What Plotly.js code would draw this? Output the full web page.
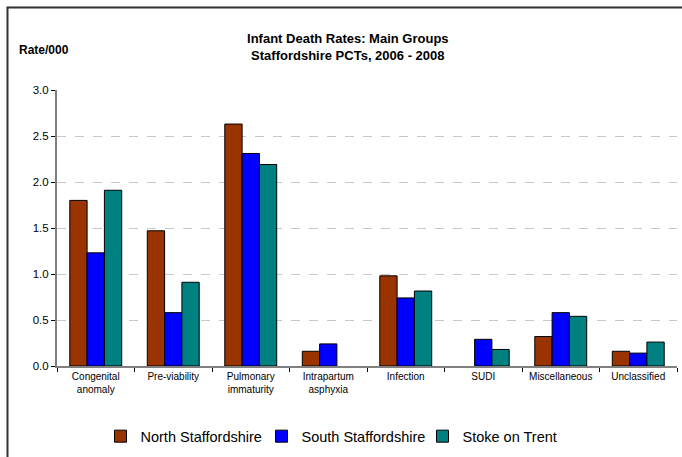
<!DOCTYPE html>
<html>
<head>
<meta charset="utf-8">
<script src="https://cdn.plot.ly/plotly-3.0.1.min.js"></script>
<style>html,body{margin:0;padding:0;background:#fff;}#chart{width:682px;height:457px;}</style>
</head>
<body>
<div id="chart"></div>
<script>
const categories = ["Congenital<br>anomaly", "Pre-viability", "Pulmonary<br>immaturity", "Intrapartum<br>asphyxia", "Infection", "SUDI", "Miscellaneous", "Unclassified"];
const northStaffs = [1.80, 1.47, 2.63, 0.16, 0.98, null, 0.32, 0.16];
const southStaffs = [1.23, 0.58, 2.31, 0.24, 0.74, 0.29, 0.58, 0.14];
const stokeOnTrent = [1.91, 0.91, 2.19, null, 0.815, 0.18, 0.54, 0.26];
const seriesNames = ["North Staffordshire", "South Staffordshire", "Stoke on Trent"];
const seriesColors = ["#993300", "#0000FF", "#008080"];
const yTicks = [0, 0.5, 1.0, 1.5, 2.0, 2.5, 3.0];
const yTickText = ["0.0", "0.5", "1.0", "1.5", "2.0", "2.5", "3.0"];

const font = "Liberation Sans, Arial, sans-serif";
const data = [northStaffs, southStaffs, stokeOnTrent].map((vals, i) => ({
  type: "bar",
  x: categories,
  y: vals,
  name: seriesNames[i],
  marker: {color: seriesColors[i], line: {color: "#000", width: 1}},
  hoverinfo: "skip"
}));

const layout = {
  width: 682, height: 457,
  margin: {l: 57, r: 5, t: 90, b: 88},
  paper_bgcolor: "#fff", plot_bgcolor: "#fff",
  font: {family: font, color: "#000"},
  barmode: "group", bargap: 0.33, bargroupgap: 0,
  title: {
    text: "<b>Infant Death Rates: Main Groups</b><br><b>Staffordshire PCTs, 2006 - 2008</b>",
    font: {family: font, size: 13, color: "#000"},
    xref: "container", x: 0.51, xanchor: "center",
    yref: "container", y: 1 - 43 / 457, yanchor: "middle"
  },
  xaxis: {
    type: "category",
    tickson: "boundaries",
    ticks: "outside", ticklen: 4, tickcolor: "#000", tickwidth: 1,
    showline: true, linecolor: "#808080", linewidth: 2,
    showgrid: false,
    tickfont: {family: font, size: 10, color: "#000"},
    tickangle: 0,
    fixedrange: true
  },
  yaxis: {
    range: [0, 3.0],
    tickvals: yTicks, ticktext: yTickText,
    ticks: "outside", ticklen: 4, tickcolor: "#000", tickwidth: 1,
    showline: true, linecolor: "#808080", linewidth: 2,
    showgrid: true, gridcolor: "#c8c8c8", griddash: "dash", gridwidth: 1,
    zeroline: false,
    tickfont: {family: font, size: 11.5, color: "#000"},
    fixedrange: true
  },
  showlegend: true,
  legend: {
    orientation: "h",
    x: (342 - 57) / 620, xanchor: "center",
    y: -(440 - 369) / 279, yanchor: "middle",
    font: {family: font, size: 14.5, color: "#000"},
    itemwidth: 30,
    entrywidth: 116,
    traceorder: "normal"
  },
  annotations: [{
    text: "<b>Rate/000</b>",
    xref: "paper", yref: "paper",
    x: (17 - 57) / 620, xanchor: "left",
    y: (369 - 50) / 279, yanchor: "middle",
    showarrow: false,
    font: {family: font, size: 12, color: "#000"}
  }],
  shapes: [{
    type: "rect", xref: "paper", yref: "paper",
    x0: (7.5 - 57) / 620, x1: 1.2,
    y0: -0.5, y1: (369 - 6.5) / 279,
    line: {color: "#333", width: 2},
    fillcolor: "rgba(0,0,0,0)",
    layer: "below"
  }]
};

Plotly.newPlot("chart", data, layout, {displayModeBar: false, staticPlot: true});
</script>
</body>
</html>
